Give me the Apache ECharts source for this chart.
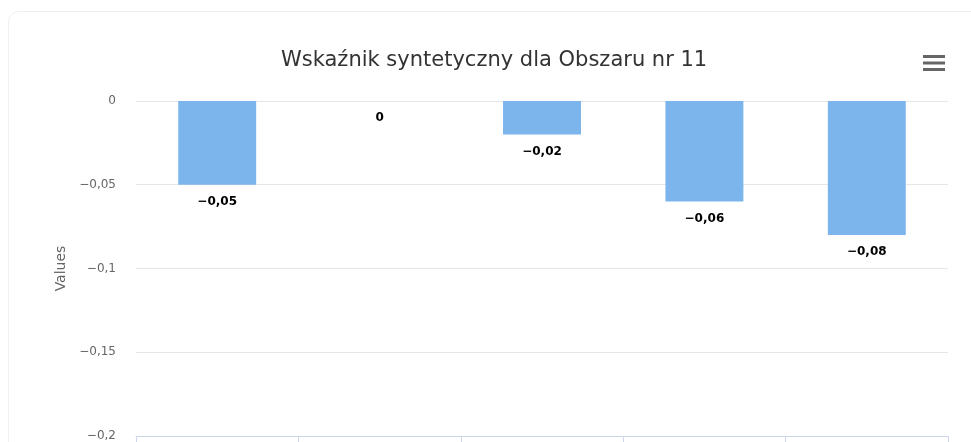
<!DOCTYPE html>
<html>
<head>
<meta charset="utf-8">
<script src="https://cdn.jsdelivr.net/npm/echarts@6/dist/echarts.min.js"></script>
<style>
  html, body { margin: 0; padding: 0; background: #fff; }
  #chart { width: 971px; height: 442px; }
</style>
</head>
<body>
<div id="chart"></div>
<script>
// dane wykresu
var categories = ["Kategoria 1", "Kategoria 2", "Kategoria 3", "Kategoria 4", "Kategoria 5"];
var values = [-0.05, 0, -0.02, -0.06, -0.08];
var yTicks = { min: -0.2, max: 0, interval: 0.05 };

var FONT = "DejaVu Sans";

// -0.05 -> "−0,05"
function plNumber(v) {
  var s = String(Math.round(v * 100) / 100).replace(".", ",");
  return s.replace("-", "\u2212");
}

var chart = echarts.init(document.getElementById("chart"));

var options = {
  animation: false,
  //tytuł
  title: {
    text: "Wskaźnik syntetyczny dla Obszaru nr 11",
    left: 276,
    top: 45,
    textStyle: {
      fontFamily: FONT,
      fontSize: 21,
      fontWeight: "normal",
      color: "#333333"
    }
  },
  grid: {
    left: 136,
    right: 23,
    top: 101,
    bottom: 5,
    containLabel: false
  },
  xAxis: {
    type: "category",
    data: categories,
    axisLine: {
      onZero: false, // oś na dole, przy -0,2
      lineStyle: { color: "#ccd6eb" }
    },
    axisTick: {
      show: true,
      length: 10,
      lineStyle: { color: "#ccd6eb" }
    },
    axisLabel: { show: false },
    splitLine: { show: false }
  },
  yAxis: {
    type: "value",
    min: yTicks.min,
    max: yTicks.max,
    interval: yTicks.interval,
    name: "Values",
    nameLocation: "middle",
    nameGap: 66,
    nameTextStyle: {
      fontFamily: FONT,
      fontSize: 14,
      color: "#666666"
    },
    axisLine: { show: false },
    axisTick: { show: false },
    splitLine: {
      show: true,
      lineStyle: { color: "#e6e6e6" }
    },
    axisLabel: {
      fontFamily: FONT,
      fontSize: 12,
      color: "#666666",
      margin: 20,
      formatter: plNumber
    }
  },
  series: [
    {
      type: "bar",
      data: values,
      barWidth: "48%",
      itemStyle: { color: "#7cb5ec" },
      label: {
        show: true,
        position: "bottom", // pod słupkiem (wartości ujemne)
        distance: 11,
        fontFamily: FONT,
        fontSize: 12,
        fontWeight: "bold",
        color: "#000000",
        formatter: function (p) {
          return plNumber(p.value);
        }
      }
    }
  ],
  // ramka karty + ikona menu
  graphic: [
    {
      type: "rect",
      shape: { x: 8.5, y: 11.5, width: 1000, height: 500, r: 10 },
      style: { fill: "none", stroke: "#efefef", lineWidth: 1 },
      silent: true,
      z: -10
    },
    {
      type: "group",
      left: 923,
      top: 55,
      children: [
        { type: "rect", shape: { x: 0, y: 0, width: 22, height: 3 }, style: { fill: "#666666" } },
        { type: "rect", shape: { x: 0, y: 6.5, width: 22, height: 3 }, style: { fill: "#666666" } },
        { type: "rect", shape: { x: 0, y: 13, width: 22, height: 3 }, style: { fill: "#666666" } }
      ]
    }
  ]
};

chart.setOption(options);
</script>
</body>
</html>
